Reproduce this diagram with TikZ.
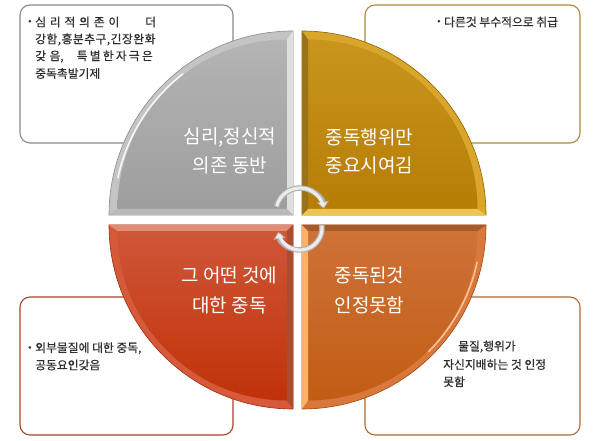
\documentclass[tikz,border=0pt]{standalone}
\usepackage{fontspec}
\newfontfamily\kr{Noto Sans CJK KR}
\newfontfamily\krb[FakeBold=0.5]{Noto Sans CJK KR}
\newfontfamily\krbs[FakeBold=0.5,LetterSpace=4]{Noto Sans CJK KR}
\usetikzlibrary{arrows.meta}
\definecolor{gBand}{HTML}{C4C4C4}\definecolor{gTop}{HTML}{B4B4B4}\definecolor{gBot}{HTML}{9E9E9E}\definecolor{gEdge}{HTML}{8A8A8A}
\definecolor{yBand}{HTML}{D9A52A}\definecolor{yTop}{HTML}{C9951E}\definecolor{yBot}{HTML}{B67D05}\definecolor{yEdge}{HTML}{8F6200}
\definecolor{yLight}{HTML}{EFC552}
\definecolor{rBand}{HTML}{D65A3A}\definecolor{rTop}{HTML}{CF5638}\definecolor{rBot}{HTML}{C03208}\definecolor{rEdge}{HTML}{9C2B0C}
\definecolor{oBand}{HTML}{D8783A}\definecolor{oTop}{HTML}{CE7238}\definecolor{oBot}{HTML}{C25C14}\definecolor{oEdge}{HTML}{9C4A12}
\definecolor{bxTL}{HTML}{8A8A8A}\definecolor{bxTR}{HTML}{B08838}\definecolor{bxBL}{HTML}{A8442A}\definecolor{bxBR}{HTML}{B06A35}
\definecolor{txt}{HTML}{2E2E2E}
\newcommand\pieQ[8]{%
  \fill[#5] (#1,#2) -- ++(#3:184) arc[start angle=#3,end angle=#4,radius=184] -- cycle;
  \shade[top color=#6,bottom color=#7] ([shift={({(#3+#4)/2}:8.5)}]#1,#2) -- ++(#3:169.5) arc[start angle=#3,end angle=#4,radius=169.5] -- cycle;
  \draw[#8,line width=0.6pt] (#1,#2) -- ++(#3:184) arc[start angle=#3,end angle=#4,radius=184] -- cycle;
}
\begin{document}
\begin{tikzpicture}[x=1pt,y=1pt,
  boxstyle/.style={draw,line width=1.1pt,fill=white,rounded corners=10pt,inner sep=0pt,outer sep=0pt},
  boxtext/.style={font=\krb\fontsize{11.8}{13}\selectfont,text=txt,anchor=west,inner sep=0pt},
  bul/.style={font=\krb\fontsize{10}{12}\selectfont,text=txt,anchor=west,inner sep=0pt},
  quadtext/.style={font=\kr\fontsize{19}{22}\selectfont,text=white,inner sep=0pt},
  arcunder/.style={line width=5.5pt,draw=gray!60,-{Triangle[length=7pt,width=12pt,line width=0.8pt,fill=gray!15]}},
  arcover/.style={line width=3.2pt,draw=gray!15}]
\useasboundingbox (0,0) rectangle (600,441);
\fill[white] (0,0) rectangle (600,441);
% boxes
\node[boxstyle,draw=bxTL,minimum width=213pt,minimum height=138pt] (boxTL) at (126.5,367) {};
\node[boxstyle,draw=bxTR,minimum width=215pt,minimum height=138pt] (boxTR) at (472.5,367) {};
\node[boxstyle,draw=bxBL,minimum width=213pt,minimum height=138pt] (boxBL) at (126.5,75) {};
\node[boxstyle,draw=bxBR,minimum width=215pt,minimum height=138pt] (boxBR) at (472.5,75) {};
% box texts
\node[bul] (bTL) at (28,419) {•};
\node[boxtext] (tTL1) at (35,419) {심\hspace{3.8pt}리\hspace{3.8pt}적\hspace{3.8pt}의\hspace{3.8pt}존\hspace{3.8pt}이\hspace{26pt}더};
\node[boxtext,font=\krbs\fontsize{11.8}{13}\selectfont] (tTL2) at (35,401.5) {강함,흥분추구,긴장완화};
\node[boxtext] (tTL3) at (35,384.5) {갖\hspace{3.5pt}음,\hspace{13pt}특\hspace{2.2pt}별\hspace{2.2pt}한\hspace{2.2pt}자\hspace{2.2pt}극\hspace{2.2pt}은};
\node[boxtext] (tTL4) at (35,367.5) {중독촉발기제};
\node[bul] (bTR) at (437,419) {•};
\node[boxtext] (tTR1) at (444,419) {다른것 부수적으로 취급};
\node[bul] (bBL) at (28,92.7) {•};
\node[boxtext] (tBL1) at (35,92.7) {외부물질에 대한 중독,};
\node[boxtext] (tBL2) at (35,76) {공동요인갖음};
\node[boxtext] (tBR1) at (458,94.3) {물질,행위가};
\node[boxtext] (tBR2) at (443,76.5) {자신지배하는 것 인정};
\node[boxtext] (tBR3) at (443,59.3) {못함};
% quadrants
\pieQ{293}{226}{180}{90}{gBand}{gTop}{gBot}{gEdge}
\pieQ{302}{226}{90}{0}{yBand}{yTop}{yBot}{yEdge}
\pieQ{293}{216}{180}{270}{rBand}{rTop}{rBot}{rEdge}
\pieQ{302}{216}{270}{360}{oBand}{oTop}{oBot}{oEdge}
% bevel highlights
\fill[gray!25] (293,226) -- (293,410) -- (287,401.5) -- (287,232) -- cycle;
\draw[white,line width=1.6pt,line cap=round,opacity=.85] ([shift={(168:179)}]293,226) arc[start angle=168,end angle=128,radius=179];
\fill[gray!55] (293,226) -- (109,226) -- (117.5,232) -- (287,232) -- cycle;
\fill[yLight] (302,226) -- (486,226) -- (477.5,232) -- (308,232) -- cycle;
\fill[yEdge!90] (302,226) -- (302,410) -- (308,401.5) -- (308,232) -- cycle;
\fill[rBand!70!white] (293,216) -- (109,216) -- (117.5,210) -- (287,210) -- cycle;
\fill[rEdge!85] (293,216) -- (293,32) -- (287,40.5) -- (287,210) -- cycle;
\fill[orange!60!white] (302,216) -- (302,32) -- (308,40.5) -- (308,210) -- cycle;
\fill[oEdge!90] (302,216) -- (486,216) -- (477.5,210) -- (308,210) -- cycle;
\draw[orange!35!white,line width=1.6pt,line cap=round,opacity=.85] ([shift={(-12:179)}]302,216) arc[start angle=-12,end angle=-45,radius=179];
% quadrant texts
\node[quadtext] (q1a) at (230,304) {심리,정신적};
\node[quadtext] (q1b) at (230,276) {의존 동반};
\node[quadtext] (q2a) at (369.5,304) {중독행위만};
\node[quadtext] (q2b) at (369.5,276) {중요시여김};
\node[quadtext] (q3a) at (229.5,166) {그 어떤 것에};
\node[quadtext] (q3b) at (229.5,136) {대한 중독};
\node[quadtext] (q4a) at (369.5,166) {중독된것};
\node[quadtext] (q4b) at (369.5,136) {인정못함};
% circular arrows
\coordinate (ta) at (300,229);
\coordinate (tb) at (300,213);
\draw[arcunder] ([shift={(168:24)}]ta) arc[start angle=168,end angle=8,radius=24];
\draw[arcover] ([shift={(166:24)}]ta) arc[start angle=166,end angle=14,radius=24];
\draw[arcunder] ([shift={(8:22)}]tb) arc[start angle=8,end angle=-170,radius=22];
\draw[arcover] ([shift={(6:22)}]tb) arc[start angle=6,end angle=-163,radius=22];
\end{tikzpicture}
\end{document}
